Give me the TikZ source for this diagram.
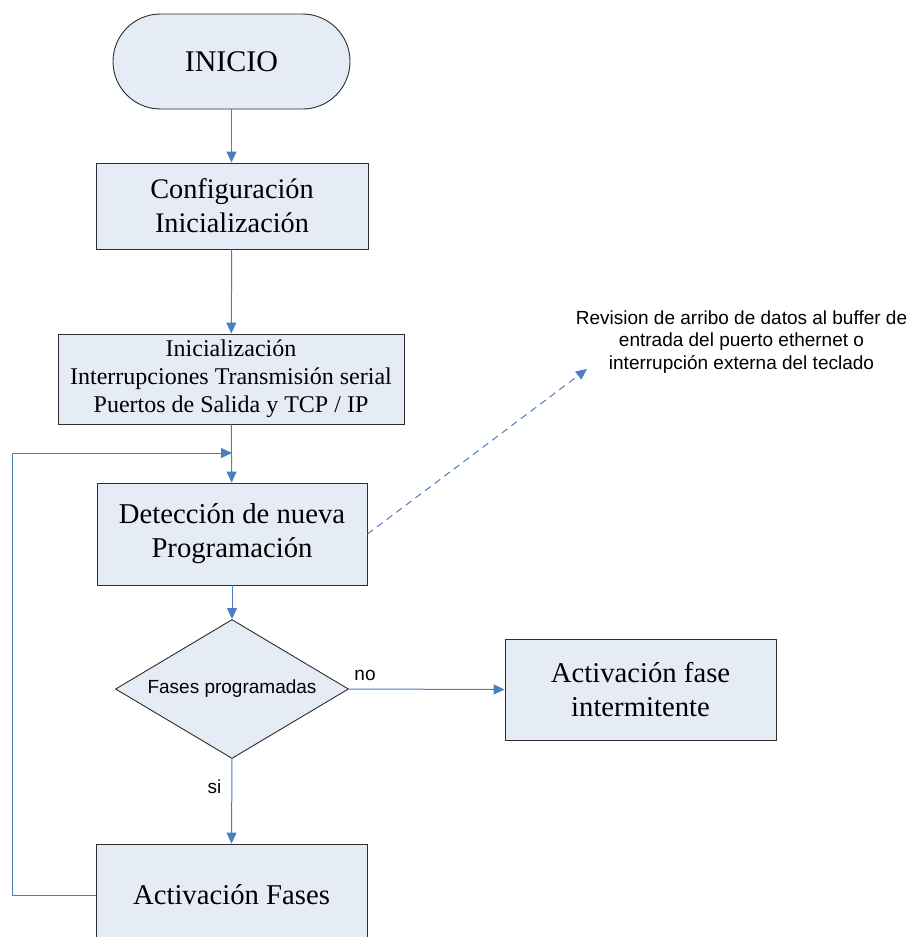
\documentclass[tikz,border=0pt]{standalone}
\usepackage{fontspec}
\setmainfont{Liberation Serif}
\newfontfamily\arialfont{Liberation Sans}
\usetikzlibrary{arrows.meta,shapes.geometric}
\definecolor{boxfill}{RGB}{230,236,246}
\definecolor{flowblue}{RGB}{74,126,193}
\definecolor{edgegray}{RGB}{45,45,45}
\begin{document}
\begin{tikzpicture}[x=1pt,y=-1pt,
  box/.style={draw=edgegray, fill=boxfill, line width=0.9pt, align=center, inner sep=0pt},
  bigtext/.style={font=\fontsize{28.7}{34}\selectfont},
  flow/.style={draw=flowblue, line width=1pt, -{Triangle[length=11pt,width=10pt]}},
  lbl/.style={font=\arialfont\fontsize{19}{22}\selectfont, inner sep=0pt}]
\useasboundingbox (0,0) rectangle (911,937);
\clip (0,0) rectangle (911,937);

% process steps
\node[box, rounded corners=47.5pt, minimum width=237pt, minimum height=95pt,
      font=\fontsize{30}{34}\selectfont] (term) at (231.5,61.5) {INICIO};
\node[box, font=\fontsize{28.3}{34}\selectfont, minimum width=272pt, minimum height=86pt] (config) at (232,206)
  {Configuración\\Inicialización};
\node[box, font=\fontsize{24}{28}\selectfont, minimum width=346pt, minimum height=90pt] (init) at (231,379)
  {Inicialización\\Interrupciones Transmisión serial\\Puertos de Salida y TCP / IP};
\node[box, bigtext, minimum width=270pt, minimum height=102pt] (detect) at (232,534)
  {\raisebox{-2pt}{Detección de nueva}\\\raisebox{-2pt}{Programación}};
\node[box, shape=diamond, aspect=1.676, minimum width=233pt, minimum height=139pt,
      font=\arialfont\fontsize{19}{22}\selectfont] (decision) at (232,689) {Fases programadas};
\node[box, bigtext, minimum width=271pt, minimum height=101pt] (inter) at (640.5,689.5)
  {Activación fase\\intermitente};
\node[box, bigtext, minimum width=271pt, minimum height=102pt] (fases) at (231.5,895)
  {Activación Fases};

% side note
\node[font=\arialfont\fontsize{19}{22.5}\selectfont, align=center, inner sep=0pt] (note) at (741.5,342)
  {Revision de arribo de datos al buffer de\\entrada del puerto ethernet o\\interrupción externa del teclado};

\coordinate (merge) at (232,453);
\coordinate (loopcorner) at (12,453);
\coordinate (notetip) at (587,369);

% connectors
\draw[flow] (term.south) -- (term.south |- config.north);
\draw[flow] (config) -- (init);
\draw[flow] (init) -- (detect);
\draw[flow] (detect) -- (decision);
\draw[flow] (decision.east) -- (inter.west);
\draw[flow] (decision.south) -- (fases.north);
\draw[flow] (fases.west) -| (loopcorner) -- (merge);
\draw[flow, dashed, dash pattern=on 7pt off 5pt] (detect.east) -- (notetip);

% branch labels
\node[lbl] at (365,675) {no};
\node[lbl] at (214.5,787) {si};
\end{tikzpicture}
\end{document}
